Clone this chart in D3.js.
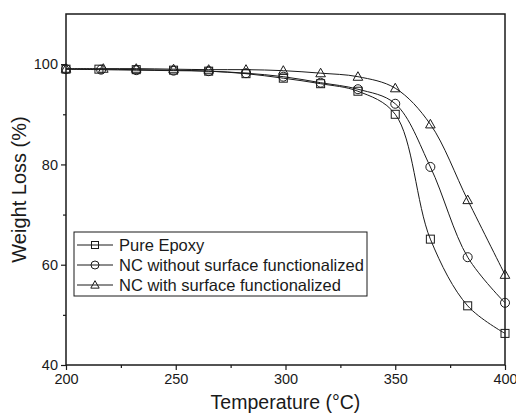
<!DOCTYPE html>
<html>
<head>
<meta charset="utf-8">
<script src="https://cdn.jsdelivr.net/npm/d3@7"></script>
<style>
  html, body { margin: 0; padding: 0; background: #fff; }
  svg { display: block; font-family: "Liberation Sans", Arial, sans-serif; }
</style>
</head>
<body>
<svg id="chart" width="516" height="414"></svg>
<script>
// ---- data ----
const seriesNames = ["Pure Epoxy", "NC without surface functionalized", "NC with surface functionalized"];
const epoxyTemp = [200, 215, 232, 249, 265, 282, 299, 316, 333, 350, 366, 383, 400];
const epoxyWeight = [99.0, 99.0, 98.9, 98.8, 98.6, 98.1, 97.2, 96.1, 94.6, 90.0, 65.1, 51.8, 46.3];
const ncTemp = [200, 216, 232, 249, 265, 282, 299, 316, 333, 350, 366, 383, 400];
const ncWeight = [99.0, 98.9, 98.8, 98.7, 98.6, 98.2, 97.5, 96.3, 95.0, 92.1, 79.5, 61.5, 52.4];
const ncfTemp = [200, 217, 232, 249, 265, 282, 299, 316, 333, 350, 366, 383, 400];
const ncfWeight = [99.1, 99.1, 99.1, 99.0, 98.9, 98.9, 98.7, 98.2, 97.5, 95.2, 88.0, 72.9, 58.0];
const xTicks = [200, 250, 300, 350, 400];
const xMinorTicks = [225, 275, 325, 375];
const yTicks = [40, 60, 80, 100];
const yMinorTicks = [50, 70, 90];
const xLabel = "Temperature (°C)";
const yLabel = "Weight Loss (%)";

// ---- layout ----
const svg = d3.select("#chart");
const L = 66, R = 505, T = 14, B = 365;
const x = d3.scaleLinear().domain([200, 400]).range([L, R]);
const y = d3.scaleLinear().domain([40, 110]).range([B, T]);
const ink = "#1a1a1a";

const series = [
  { name: seriesNames[0], xs: epoxyTemp, ys: epoxyWeight, shape: "square" },
  { name: seriesNames[1], xs: ncTemp, ys: ncWeight, shape: "circle" },
  { name: seriesNames[2], xs: ncfTemp, ys: ncfWeight, shape: "triangle" }
];

function marker(g, shape, cx, cy, s) {
  if (shape === "square") {
    g.append("rect").attr("x", cx - s / 2).attr("y", cy - s / 2).attr("width", s).attr("height", s)
      .attr("fill", "none").attr("stroke", ink).attr("stroke-width", 1);
  } else if (shape === "circle") {
    g.append("circle").attr("cx", cx).attr("cy", cy).attr("r", s / 2 + 0.5)
      .attr("fill", "none").attr("stroke", ink).attr("stroke-width", 1);
  } else {
    const h = s * 1.0, w = s * 1.2;
    g.append("path")
      .attr("d", `M${cx},${cy - h * 0.62}L${cx + w / 2},${cy + h * 0.45}L${cx - w / 2},${cy + h * 0.45}Z`)
      .attr("fill", "none").attr("stroke", ink).attr("stroke-width", 1);
  }
}

// lines
const lineGen = d3.line().x(d => x(d[0])).y(d => y(d[1])).curve(d3.curveCatmullRom.alpha(0.5));
const plot = svg.append("g");
series.forEach(s => {
  const pts = s.xs.map((v, i) => [v, s.ys[i]]);
  plot.append("path").attr("d", lineGen(pts)).attr("fill", "none").attr("stroke", ink).attr("stroke-width", 1);
});
series.forEach(s => {
  s.xs.forEach((v, i) => marker(plot, s.shape, x(v), y(s.ys[i]), 8));
});

// frame
svg.append("rect").attr("x", L).attr("y", T).attr("width", R - L).attr("height", B - T)
  .attr("fill", "none").attr("stroke", ink).attr("stroke-width", 1.5);

// axes
const xAxis = d3.axisBottom(x).tickValues(xTicks).tickSize(5).tickPadding(4).tickFormat(d3.format("d"));
const gx = svg.append("g").attr("transform", `translate(0,${B})`).call(xAxis);
const xMinor = d3.axisBottom(x).tickValues(xMinorTicks).tickSize(3).tickFormat("");
const gxm = svg.append("g").attr("transform", `translate(0,${B})`).call(xMinor);
const yAxis = d3.axisLeft(y).tickValues(yTicks).tickSize(5).tickPadding(3).tickFormat(d3.format("d"));
const gy = svg.append("g").attr("transform", `translate(${L},0)`).call(yAxis);
const yMinor = d3.axisLeft(y).tickValues(yMinorTicks).tickSize(3).tickFormat("");
const gym = svg.append("g").attr("transform", `translate(${L},0)`).call(yMinor);
[gx, gxm, gy, gym].forEach(g => {
  g.select(".domain").remove();
  g.selectAll("line").attr("stroke", ink).attr("stroke-width", 1.2);
  g.selectAll("text").attr("fill", ink).style("font-size", "14.5px")
    .style("font-family", '"Liberation Sans", Arial, sans-serif');
});

// axis titles
svg.append("text").attr("x", (L + R) / 2).attr("y", 409).attr("text-anchor", "middle")
  .style("font-size", "19.5px").attr("fill", ink).text(xLabel);
svg.append("text").attr("transform", `translate(26,${(T + B) / 2 + 0}) rotate(-90)`).attr("text-anchor", "middle")
  .style("font-size", "20px").attr("fill", ink).text(yLabel);

// legend
const lg = svg.append("g");
lg.append("rect").attr("x", 74).attr("y", 232).attr("width", 293).attr("height", 64)
  .attr("fill", "#fff").attr("stroke", ink).attr("stroke-width", 1);
series.forEach((s, i) => {
  const cy = 245 + i * 20;
  lg.append("line").attr("x1", 77).attr("x2", 113).attr("y1", cy).attr("y2", cy)
    .attr("stroke", ink).attr("stroke-width", 1);
  marker(lg, s.shape, 95, cy, 7);
  lg.append("text").attr("x", 119).attr("y", cy + 6).style("font-size", "16.5px").attr("fill", ink).text(s.name);
});
</script>
</body>
</html>
